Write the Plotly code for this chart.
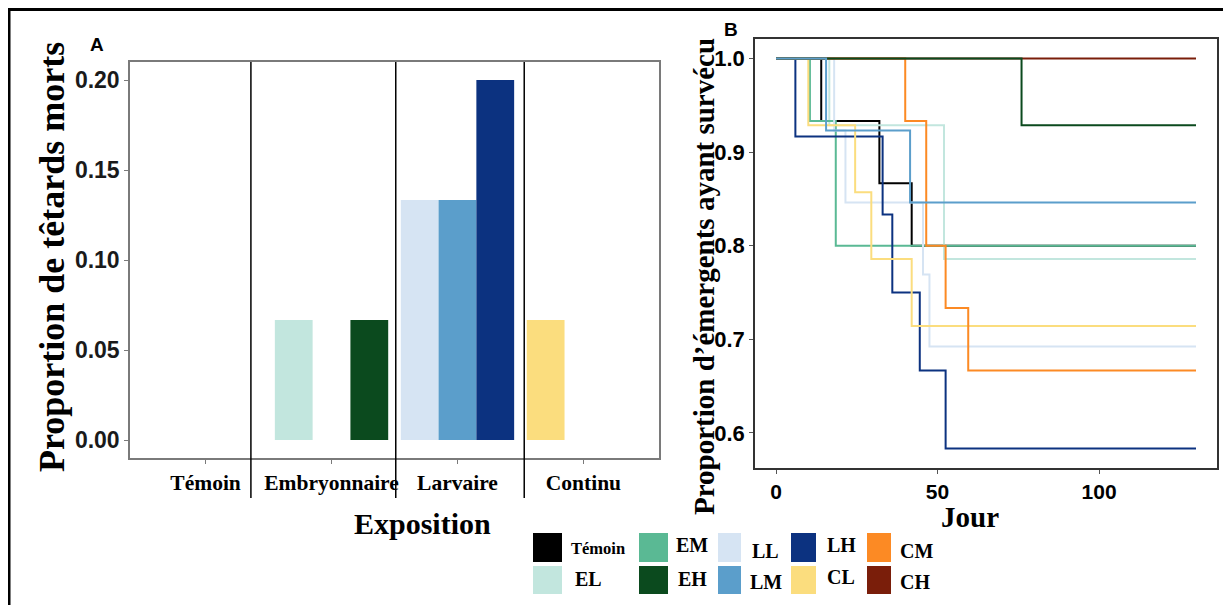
import plotly.graph_objects as go

W, H = 1231, 605
OFF = 8                      # default page body margin
FW, FH = W - OFF, H - OFF    # figure size so that figure + margin fills the window

# ---------------- Panel A data ----------------
categories = ["Témoin", "Embryonnaire", "Larvaire", "Continu"]
dead_low = [0.0, 0.0667, 0.1333, 0.0667]
dead_mid = [0.0, 0.0, 0.1333, 0.0]
dead_high = [0.0, 0.0667, 0.2, 0.0]
low_groups = ["Témoin", "EL", "LL", "CL"]
mid_groups = ["Témoin", "EM", "LM", "CM"]
high_groups = ["Témoin", "EH", "LH", "CH"]
y_ticks_A = [0.00, 0.05, 0.10, 0.15, 0.20]

# ---------------- Panel B data ----------------
treatments = ["Témoin", "EL", "EM", "EH", "LL", "LM", "LH", "CL", "CM", "CH"]
days_T = [0, 14, 32, 42, 130]
surv_T = [1, 0.9333, 0.8667, 0.8, 0.8]
days_EL = [0, 16.5, 52, 130]
surv_EL = [1, 0.9286, 0.7857, 0.7857]
days_EM = [0, 10.5, 18.5, 130]
surv_EM = [1, 0.9333, 0.8, 0.8]
days_EH = [0, 76, 130]
surv_EH = [1, 0.9286, 0.9286]
days_LL = [0, 18, 21.5, 45.5, 47.5, 130]
surv_LL = [1, 0.9231, 0.8462, 0.7692, 0.6923, 0.6923]
days_LM = [0, 15.5, 41.5, 130]
surv_LM = [1, 0.9231, 0.8462, 0.8462]
days_LH = [0, 6, 33, 36, 44.5, 52.5, 130]
surv_LH = [1, 0.9167, 0.8333, 0.75, 0.6667, 0.5833, 0.5833]
days_CL = [0, 10, 24.5, 29.5, 42, 130]
surv_CL = [1, 0.9286, 0.8571, 0.7857, 0.7143, 0.7143]
days_CM = [0, 40, 46.5, 52.5, 59.5, 130]
surv_CM = [1, 0.9333, 0.8, 0.7333, 0.6667, 0.6667]
days_CH = [0, 130]
surv_CH = [1, 1]
x_ticks_B = [0, 50, 100]
y_ticks_B = [0.6, 0.7, 0.8, 0.9, 1.0]

colors = {
    "Témoin": "#000000", "EL": "#c2e6de", "EM": "#5ab994", "EH": "#0b4a1e",
    "LL": "#d6e4f3", "LM": "#5b9ecb", "LH": "#0c3280",
    "CL": "#fbdd7e", "CM": "#fc8a24", "CH": "#7a1e0a",
}

SERIF = "Liberation Serif"
SANS = "Liberation Sans"


def px(x):
    return (x - OFF) / FW


def py(y):
    return 1 - (y - OFF) / FH


fig = go.Figure()

# ---- Panel A bars ----
for vals, grp in [(dead_low, low_groups), (dead_mid, mid_groups), (dead_high, high_groups)]:
    fig.add_trace(go.Bar(
        x=list(range(len(categories))), y=vals,
        marker=dict(color=[colors[g] for g in grp], line=dict(width=0)),
        xaxis="x", yaxis="y", showlegend=False, hoverinfo="skip",
    ))

# ---- Panel B survival curves ----
curves = {
    "Témoin": (days_T, surv_T), "EL": (days_EL, surv_EL), "EM": (days_EM, surv_EM),
    "LL": (days_LL, surv_LL), "LH": (days_LH, surv_LH), "CL": (days_CL, surv_CL),
    "CM": (days_CM, surv_CM), "CH": (days_CH, surv_CH), "EH": (days_EH, surv_EH),
    "LM": (days_LM, surv_LM),
}
for name, (d, s) in curves.items():
    fig.add_trace(go.Scatter(
        x=d, y=s, mode="lines", line=dict(color=colors[name], width=2, shape="hv"),
        xaxis="x2", yaxis="y2", showlegend=False, name=name,
    ))

axisA_common = dict(showgrid=False, zeroline=False, showline=True, mirror=True,
                    linecolor="#7a7a7a", linewidth=1.5, ticks="outside",
                    ticklen=4, tickcolor="#7a7a7a", tickwidth=1)
axisB_common = dict(showgrid=False, zeroline=False, showline=True, mirror=True,
                    linecolor="#333333", linewidth=1.5, ticks="outside",
                    ticklen=4, tickcolor="#555555", tickwidth=1)

fig.update_layout(
    width=FW, height=FH, margin=dict(l=0, r=0, t=0, b=0),
    paper_bgcolor="white", plot_bgcolor="white",
    barmode="group", bargap=0.1, bargroupgap=0,
    xaxis=dict(domain=[px(130), px(659)], range=[-0.6, 3.6],
               tickvals=list(range(len(categories))), ticktext=categories,
               tickfont=dict(family=SERIF, size=21.5, color="black", weight="bold"),
               anchor="y", **axisA_common),
    yaxis=dict(domain=[py(458), py(62)], range=[-0.01, 0.21],
               tickvals=y_ticks_A, ticktext=[f"{v:.2f}" for v in y_ticks_A],
               tickfont=dict(family=SANS, size=23, color="#1a1a1a", weight="bold"),
               anchor="x", **axisA_common),
    xaxis2=dict(domain=[px(755), px(1217)], range=[-6.5, 136.5],
                tickvals=x_ticks_B,
                tickfont=dict(family=SANS, size=21, color="black", weight="bold"),
                anchor="y2", **axisB_common),
    yaxis2=dict(domain=[py(468), py(39)], range=[0.5625, 1.0208],
                tickvals=y_ticks_B, ticktext=[f"{v:.1f}" for v in y_ticks_B],
                tickfont=dict(family=SANS, size=22, color="black", weight="bold"),
                anchor="x2", **axisB_common),
)

shapes = []
# outer frame
shapes.append(dict(type="rect", xref="paper", yref="paper", x0=px(9), x1=px(1227),
                   y0=py(620), y1=py(9.5), line=dict(color="black", width=3)))
# separators between exposure groups in panel A
for xs in [0.36, 1.51, 2.53]:
    shapes.append(dict(type="line", xref="x", yref="paper", x0=xs, x1=xs,
                       y0=py(498), y1=py(62), line=dict(color="black", width=1.5)))

annotations = []


def add_text(text, x, y, family, size, angle=0):
    annotations.append(dict(text=text, x=px(x), y=py(y), xref="paper", yref="paper",
                            xanchor="center", yanchor="middle", textangle=angle,
                            showarrow=False,
                            font=dict(family=family, size=size, color="black", weight="bold")))


add_text("A", 97, 45, SANS, 19)
add_text("B", 731, 29, SANS, 19)
add_text("Proportion de têtards morts", 52, 257, SERIF, 36, -90)
add_text("Exposition", 422, 523, SERIF, 30)
add_text("Proportion d’émergents ayant survécu", 704, 277, SERIF, 29, -90)
add_text("Jour", 970, 517, SERIF, 29)

# legend (2 rows x 5 columns)
legend_order = ["Témoin", "EL", "EM", "EH", "LL", "LM", "LH", "CL", "CM", "CH"]
col_x = [533, 639, 718, 791, 867]
col_w = [29, 29, 23, 25, 24]
row_y = [(533, 562), (566, 594)]
label_pos = [(598, 548), (588, 579), (692, 545), (692, 579), (765, 551),
             (766, 582), (841, 545), (841, 577), (916, 551), (915, 582)]
for i, name in enumerate(legend_order):
    c, r = divmod(i, 2)
    shapes.append(dict(type="rect", xref="paper", yref="paper",
                       x0=px(col_x[c]), x1=px(col_x[c] + col_w[c]),
                       y0=py(row_y[r][1]), y1=py(row_y[r][0]),
                       fillcolor=colors[name], line=dict(width=0)))
    lx, ly = label_pos[i]
    add_text(name, lx, ly, SERIF, 16.5 if name == "Témoin" else 20)

fig.update_layout(shapes=shapes, annotations=annotations)
fig.write_html("out.html")
